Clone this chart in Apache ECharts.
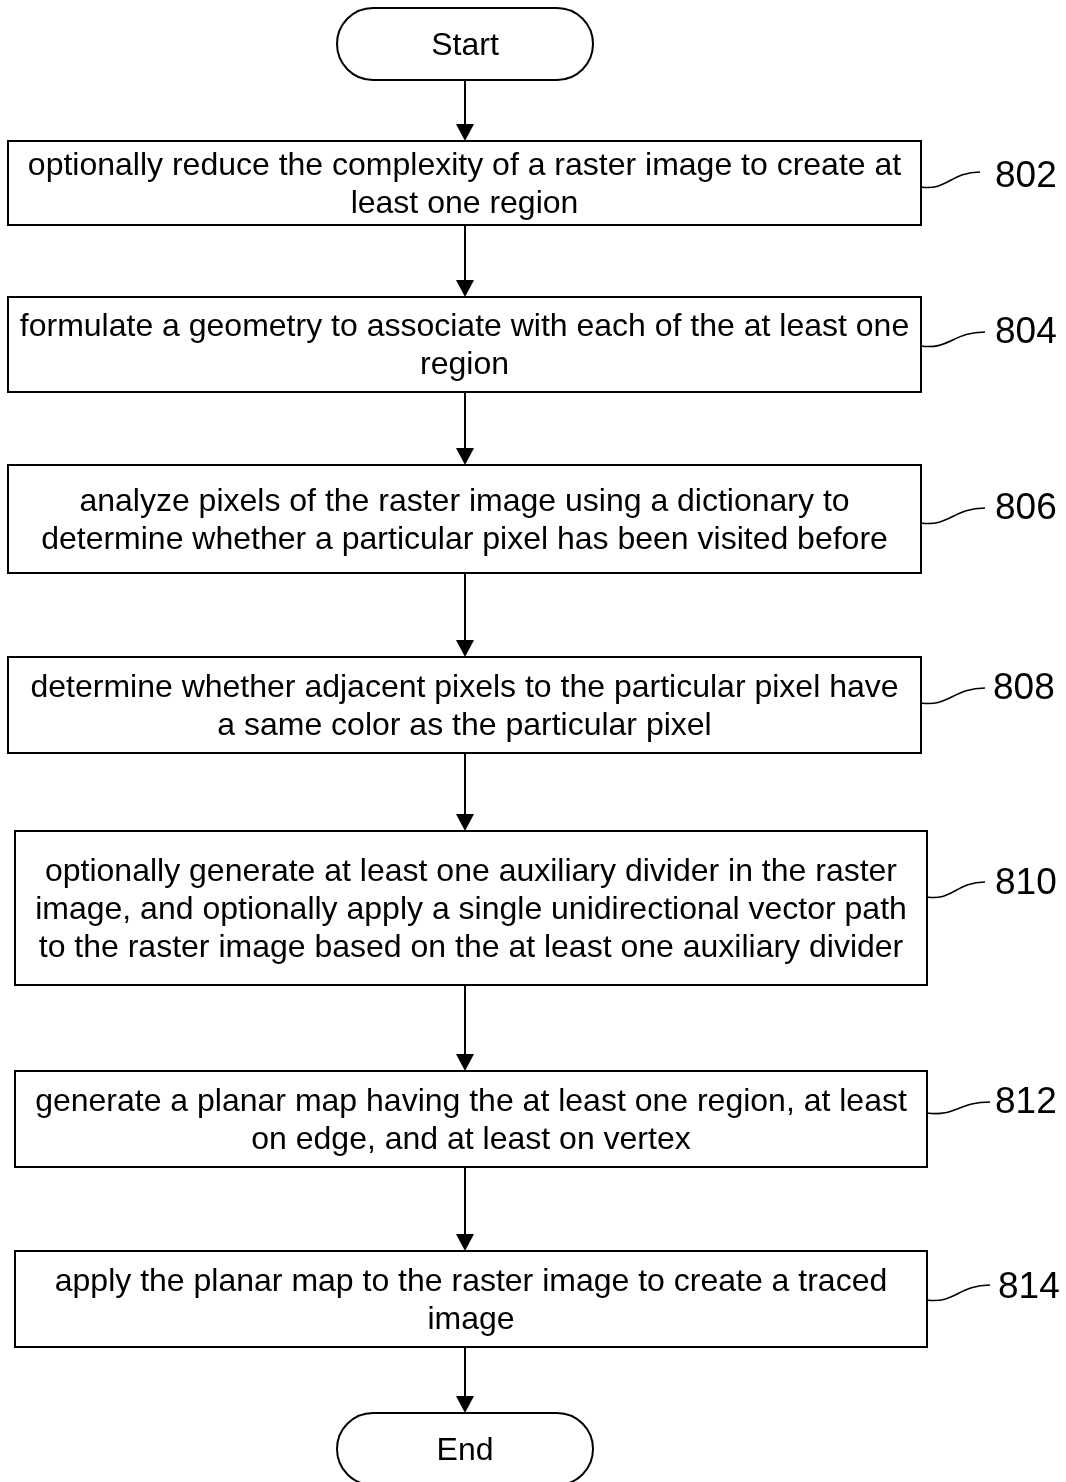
<!DOCTYPE html>
<html>
<head>
<meta charset="utf-8">
<script src="https://cdn.jsdelivr.net/npm/echarts@6/dist/echarts.min.js"></script>
<style>
html,body{margin:0;padding:0;background:#fff;}
#main{width:1066px;height:1482px;}
</style>
</head>
<body>
<div id="main"></div>
<script>
// ---- content ----
const terminals = ['Start', 'End'];
const stepIds = ['802', '804', '806', '808', '810', '812', '814'];
const stepLines = [
  ['optionally reduce the complexity of a raster image to create at', 'least one region'],
  ['formulate a geometry to associate with each of the at least one', 'region'],
  ['analyze pixels of the raster image using a dictionary to', 'determine whether a particular pixel has been visited before'],
  ['determine whether adjacent pixels to the particular pixel have', 'a same color as the particular pixel'],
  ['optionally generate at least one auxiliary divider in the raster', 'image, and optionally apply a single unidirectional vector path', 'to the raster image based on the at least one auxiliary divider'],
  ['generate a planar map having the at least one region, at least', 'on edge, and at least on vertex'],
  ['apply the planar map to the raster image to create a traced', 'image']
];

// ---- layout (diagram coordinates) ----
const terminalBoxes = [[337, 8, 593, 80], [337, 1413, 593, 1485]];
const stepBoxes = [
  [8, 141, 921, 225], [8, 297, 921, 392], [8, 465, 921, 573], [8, 657, 921, 753],
  [15, 831, 927, 985], [15, 1071, 927, 1167], [15, 1251, 927, 1347]
];
const leaders = [
  [921, 187, 980, 172], [921, 346, 985, 332], [921, 523, 985, 508], [921, 703, 985, 688],
  [927, 897, 985, 882], [927, 1113, 990, 1102], [927, 1300, 990, 1285]
];
const labelPos = [[995, 177], [995, 333], [995, 509], [993, 689], [995, 884], [995, 1103], [998, 1288]];
const flowX = 465;
const textNudge = 2;

const FONT = '"Liberation Sans", Arial, sans-serif';
const chart = echarts.init(document.getElementById('main'), null, {renderer: 'canvas'});

// chain of shapes top->bottom
const chain = [terminalBoxes[0]].concat(stepBoxes, [terminalBoxes[1]]);
const arrows = [];
for (let i = 0; i < chain.length - 1; i++) arrows.push([flowX, chain[i][3], flowX, chain[i + 1][1]]);

function pt(api, x, y) { return api.coord([x, y]); }

const option = {
  animation: false,
  backgroundColor: '#fff',
  grid: {left: 0, right: 0, top: 0, bottom: 0},
  xAxis: {type: 'value', min: 0, max: 1066, show: false},
  yAxis: {type: 'value', min: 0, max: 1482, inverse: true, show: false},
  series: [
    {
      type: 'custom', name: 'steps', clip: false,
      data: stepBoxes,
      renderItem: function (params, api) {
        const i = params.dataIndex;
        const p0 = pt(api, api.value(0), api.value(1));
        const p1 = pt(api, api.value(2), api.value(3));
        const cy = (p0[1] + p1[1]) / 2 + textNudge;
        const cx = (p0[0] + p1[0]) / 2;
        const lines = stepLines[i];
        const lh = 38;
        const children = [{
          type: 'rect',
          shape: {x: p0[0], y: p0[1], width: p1[0] - p0[0], height: p1[1] - p0[1]},
          style: {fill: '#fff', stroke: '#000', lineWidth: 2}
        }];
        lines.forEach((t, k) => {
          children.push({
            type: 'text',
            style: {
              text: t, x: cx, y: cy + (k - (lines.length - 1) / 2) * lh,
              align: 'center', verticalAlign: 'middle',
              fontSize: 32, fontFamily: FONT, fill: '#000'
            }
          });
        });
        return {type: 'group', children: children};
      }
    },
    {
      type: 'custom', name: 'terminals', clip: false,
      data: terminalBoxes,
      renderItem: function (params, api) {
        const i = params.dataIndex;
        const p0 = pt(api, api.value(0), api.value(1));
        const p1 = pt(api, api.value(2), api.value(3));
        const h = p1[1] - p0[1];
        return {
          type: 'group', children: [
            {type: 'rect', shape: {x: p0[0], y: p0[1], width: p1[0] - p0[0], height: h, r: h / 2},
              style: {fill: '#fff', stroke: '#000', lineWidth: 2}},
            {type: 'text', style: {text: terminals[i], x: (p0[0] + p1[0]) / 2, y: (p0[1] + p1[1]) / 2 + textNudge,
              align: 'center', verticalAlign: 'middle', fontSize: 32, fontFamily: FONT, fill: '#000'}}
          ]
        };
      }
    },
    {
      type: 'custom', name: 'arrows', clip: false,
      data: arrows,
      renderItem: function (params, api) {
        const a = pt(api, api.value(0), api.value(1));
        const b = pt(api, api.value(2), api.value(3));
        const ah = 17, aw = 9;
        return {
          type: 'group', children: [
            {type: 'line', shape: {x1: a[0], y1: a[1], x2: b[0], y2: b[1] - ah + 2},
              style: {stroke: '#000', lineWidth: 2}},
            {type: 'polygon', shape: {points: [[b[0] - aw, b[1] - ah], [b[0] + aw, b[1] - ah], [b[0], b[1]]]},
              style: {fill: '#000'}}
          ]
        };
      }
    },
    {
      type: 'custom', name: 'leaders', clip: false,
      data: leaders,
      renderItem: function (params, api) {
        const i = params.dataIndex;
        const a = pt(api, api.value(0), api.value(1));
        const b = pt(api, api.value(2), api.value(3));
        const dx = b[0] - a[0];
        const lp = pt(api, labelPos[i][0], labelPos[i][1]);
        return {
          type: 'group', children: [
            {type: 'bezierCurve', shape: {x1: a[0], y1: a[1], cpx1: a[0] + dx * 0.45, cpy1: a[1] + 4,
              cpx2: a[0] + dx * 0.5, cpy2: b[1], x2: b[0], y2: b[1]},
              style: {stroke: '#000', lineWidth: 1.6, fill: 'none'}},
            {type: 'text', style: {text: stepIds[i], x: lp[0], y: lp[1], align: 'left', verticalAlign: 'middle',
              fontSize: 37, fontFamily: FONT, fill: '#000'}}
          ]
        };
      }
    }
  ]
};
chart.setOption(option);
</script>
</body>
</html>
